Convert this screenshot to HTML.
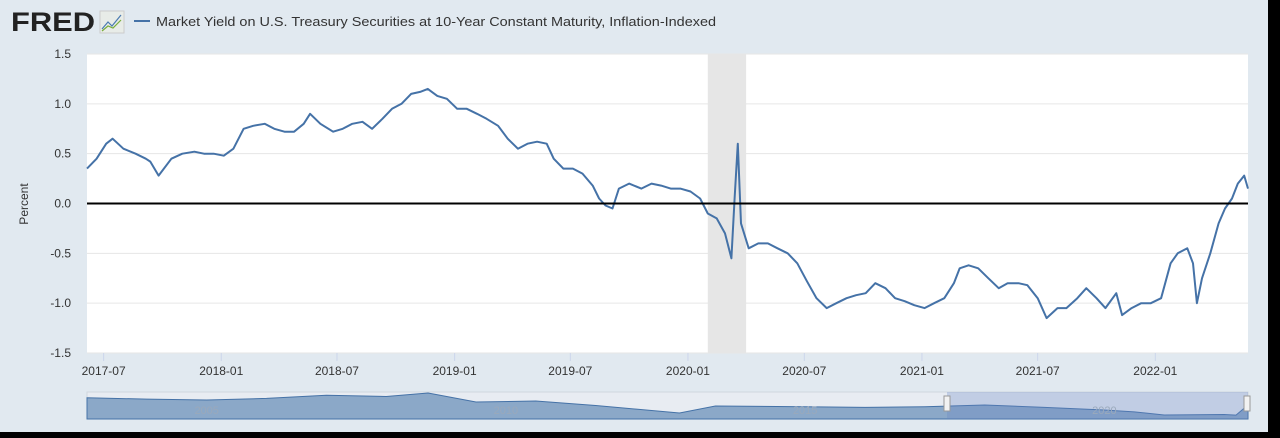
<!DOCTYPE html>
<html><head><meta charset="utf-8">
<style>
body{margin:0;width:1280px;height:438px;background:#000;overflow:hidden;font-family:"Liberation Sans",sans-serif}
#wrap{position:absolute;left:0;top:0;width:1268px;height:432px;background:#e1e9f0}
</style></head><body>
<div id="wrap">
<svg id="svg" width="1268" height="432" xmlns="http://www.w3.org/2000/svg">
<g>
<text x="11" y="31" font-size="27" font-weight="bold" fill="#222" font-family="Liberation Sans" textLength="84" lengthAdjust="spacingAndGlyphs">FRED</text>
<rect x="100" y="11" width="24" height="22" fill="#e8ece8" stroke="#ccc"/>
<polyline points="102,29 108,22 112,26 121,15" fill="none" stroke="#4a7ab0" stroke-width="1.2"/>
<polyline points="102,31 108,26 113,28 121,20" fill="none" stroke="#7aae3c" stroke-width="1.2"/>
</g>
<line x1="134" y1="21" x2="150" y2="21" stroke="#4572a7" stroke-width="2"/>
<text x="156" y="26" font-size="13" fill="#333" textLength="560" lengthAdjust="spacingAndGlyphs">Market Yield on U.S. Treasury Securities at 10-Year Constant Maturity, Inflation-Indexed</text>
<rect x="87" y="54" width="1161" height="299" fill="#fff"/>
<g id="grid"></g>
<rect id="rec" fill="#e6e6e6"/>
<g id="axes"></g>
<path id="line" fill="none" stroke="#4572a7" stroke-width="2" stroke-linejoin="round"/>
<line id="zero" stroke="#000" stroke-width="2"/>
<text x="28" y="204" font-size="12" fill="#333" text-anchor="middle" transform="rotate(-90 28 204)">Percent</text>
<g>
<rect x="87" y="392" width="1161" height="27" fill="#e8ecf2" stroke="#d0d6de"/>
<path id="navarea" fill="#8ba8c8" stroke="#4572a7" stroke-width="1"/>
<rect x="947" y="392" width="301" height="27" fill="#6685c2" fill-opacity="0.3"/>
<g id="navlabels"></g>
<rect x="944" y="396" width="6" height="15" fill="#f2f2f2" stroke="#999"/>
<rect x="1244" y="396" width="6" height="15" fill="#f2f2f2" stroke="#999"/>
</g>
</svg></div>
<script>
const dates=["2017-06-05","2017-06-20","2017-07-05","2017-07-15","2017-08-01","2017-08-20","2017-09-05","2017-09-12","2017-09-25","2017-10-15","2017-11-01","2017-11-20","2017-12-05","2017-12-20","2018-01-05","2018-01-20","2018-02-05","2018-02-20","2018-03-10","2018-03-25","2018-04-10","2018-04-25","2018-05-10","2018-05-20","2018-06-05","2018-06-25","2018-07-10","2018-07-25","2018-08-10","2018-08-25","2018-09-10","2018-09-25","2018-10-10","2018-10-25","2018-11-08","2018-11-20","2018-12-05","2018-12-20","2019-01-05","2019-01-20","2019-02-05","2019-02-20","2019-03-10","2019-03-25","2019-04-10","2019-04-25","2019-05-10","2019-05-25","2019-06-05","2019-06-20","2019-07-05","2019-07-20","2019-08-05","2019-08-15","2019-08-25","2019-09-05","2019-09-15","2019-10-01","2019-10-20","2019-11-05","2019-11-20","2019-12-05","2019-12-20","2020-01-05","2020-01-20","2020-02-01","2020-02-15","2020-02-28","2020-03-09","2020-03-14","2020-03-19","2020-03-24","2020-04-05","2020-04-20","2020-05-05","2020-05-20","2020-06-05","2020-06-20","2020-07-05","2020-07-20","2020-08-05","2020-08-20","2020-09-05","2020-09-20","2020-10-05","2020-10-20","2020-11-05","2020-11-20","2020-12-05","2020-12-20","2021-01-05","2021-01-20","2021-02-05","2021-02-20","2021-03-01","2021-03-15","2021-03-30","2021-04-15","2021-05-01","2021-05-15","2021-06-01","2021-06-15","2021-07-01","2021-07-15","2021-08-01","2021-08-15","2021-09-01","2021-09-15","2021-10-01","2021-10-15","2021-11-01","2021-11-10","2021-11-25","2021-12-10","2021-12-25","2022-01-10","2022-01-25","2022-02-05","2022-02-20","2022-03-01","2022-03-07","2022-03-15","2022-03-28","2022-04-10","2022-04-20","2022-05-01","2022-05-10","2022-05-20","2022-05-26"];
const values=[0.35,0.45,0.6,0.65,0.55,0.5,0.45,0.42,0.28,0.45,0.5,0.52,0.5,0.5,0.48,0.55,0.75,0.78,0.8,0.75,0.72,0.72,0.8,0.9,0.8,0.72,0.75,0.8,0.82,0.75,0.85,0.95,1.0,1.1,1.12,1.15,1.08,1.05,0.95,0.95,0.9,0.85,0.78,0.65,0.55,0.6,0.62,0.6,0.45,0.35,0.35,0.3,0.18,0.05,-0.02,-0.05,0.15,0.2,0.15,0.2,0.18,0.15,0.15,0.12,0.05,-0.1,-0.15,-0.3,-0.55,0.05,0.6,-0.2,-0.45,-0.4,-0.4,-0.45,-0.5,-0.6,-0.78,-0.95,-1.05,-1.0,-0.95,-0.92,-0.9,-0.8,-0.85,-0.95,-0.98,-1.02,-1.05,-1.0,-0.95,-0.8,-0.65,-0.62,-0.65,-0.75,-0.85,-0.8,-0.8,-0.82,-0.95,-1.15,-1.05,-1.05,-0.95,-0.85,-0.95,-1.05,-0.9,-1.12,-1.05,-1.0,-1.0,-0.95,-0.6,-0.5,-0.45,-0.6,-1.0,-0.75,-0.5,-0.2,-0.05,0.05,0.2,0.28,0.15];
const yTicks=[1.5,1.0,0.5,0.0,-0.5,-1.0,-1.5];
const xTicks=["2017-07","2018-01","2018-07","2019-01","2019-07","2020-01","2020-07","2021-01","2021-07","2022-01"];
const recession=["2020-02-01","2020-04-01"];
const navYears=[2003,2004,2005,2006,2007,2008,2008.7,2009.5,2010.5,2011.5,2012.9,2013.5,2015,2016,2017,2018,2019,2020,2020.5,2021,2022,2022.2,2022.4];
const navValues=[2.0,1.8,1.65,1.9,2.4,2.2,2.74,1.34,1.5,0.8,-0.37,0.72,0.6,0.5,0.6,0.88,0.5,0.1,-0.2,-0.68,-0.6,-0.7,0.88];
const navLabels=["2005","2010","2015","2020"];
const L=87,R=1248,T=54,B=353;
const d0=Date.parse("2017-06-05"),d1=Date.parse("2022-05-26");
const x=d=>L+(Date.parse(d)-d0)/(d1-d0)*(R-L);
const y=v=>T+(1.5-v)/3*(B-T);
const NS="http://www.w3.org/2000/svg";
function mk(t,a,p){const e=document.createElementNS(NS,t);for(const k in a)e.setAttribute(k,a[k]);p.appendChild(e);return e;}
const grid=document.getElementById('grid'),axes=document.getElementById('axes');
yTicks.forEach(v=>{
 const l=mk('line',{x1:L,x2:R,y1:y(v),y2:y(v),stroke:'#e6e6e6'},grid);
 
 
 const t=mk('text',{x:71,y:y(v)+4,'font-size':12,fill:'#333','text-anchor':'end'},axes);
 t.textContent=v.toFixed(1);
 
 
});
xTicks.forEach(s=>{
 const xx=x(s+"-01");
 const l=mk('line',{x1:xx,x2:xx,y1:B,y2:B+8,stroke:'#ccd6eb'},axes);
 
 
 const t=mk('text',{x:xx,y:B+22,'font-size':12,fill:'#333','text-anchor':'middle'},axes);
 t.textContent=s;
 
 
});
const rec=document.getElementById('rec');
rec.setAttribute('x',x(recession[0]));rec.setAttribute('width',x(recession[1])-x(recession[0]));
rec.setAttribute('y',T);rec.setAttribute('height',B-T);
document.getElementById('line').setAttribute('d',dates.map((d,i)=>(i?'L':'M')+x(d).toFixed(1)+','+y(values[i]).toFixed(1)).join(''));
const z=document.getElementById('zero');
z.setAttribute('x1',L);z.setAttribute('x2',R);z.setAttribute('y1',y(0));z.setAttribute('y2',y(0));
const nx=yr=>L+(yr-2003)/(2022.4-2003)*(R-L);
const ny=v=>419-(v+1.3)/4.2*27;
let p='M'+nx(navYears[0])+',419';
navYears.forEach((yr,i)=>p+='L'+nx(yr).toFixed(1)+','+ny(navValues[i]).toFixed(1));
p+='L'+nx(navYears[navYears.length-1])+',419Z';
document.getElementById('navarea').setAttribute('d',p);
const nl=document.getElementById('navlabels');
navLabels.forEach(s=>{
 const t=mk('text',{x:nx(+s),y:414,'font-size':11,fill:'#9aa9bb','text-anchor':'middle'},nl);
 t.textContent=s;
 
 
});
</script>
</body></html>
